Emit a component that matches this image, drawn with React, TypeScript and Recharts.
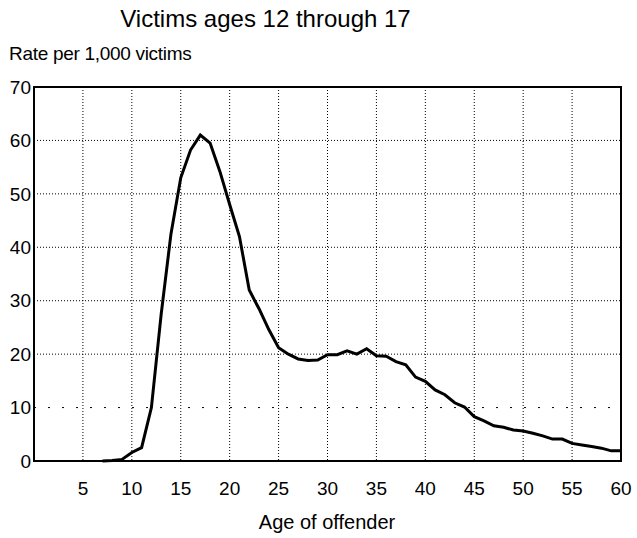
import { LineChart, Line, XAxis, YAxis, CartesianGrid, ReferenceLine, ReferenceArea } from "recharts";

document.body.style.margin = "0";

const ages = [
  7, 8, 9, 10, 11, 12, 13, 14, 15, 16, 17, 18, 19, 20, 21, 22, 23, 24, 25, 26, 27, 28, 29, 30, 31, 32, 33,
  34, 35, 36, 37, 38, 39, 40, 41, 42, 43, 44, 45, 46, 47, 48, 49, 50, 51, 52, 53, 54, 55, 56, 57, 58, 59, 60,
];
const rates = [
  0, 0.1, 0.3, 1.6, 2.5, 10, 27.5, 42.5, 53, 58.2, 61, 59.5, 54.2, 48, 42, 32, 28.5, 24.6, 21.2, 20, 19.1,
  18.8, 18.9, 19.9, 19.9, 20.6, 20.0, 21.0, 19.7, 19.6, 18.6, 18.0, 15.7, 14.9, 13.3, 12.4, 10.9, 10.1, 8.3,
  7.5, 6.6, 6.3, 5.8, 5.6, 5.2, 4.7, 4.1, 4.1, 3.3, 3.0, 2.7, 2.4, 1.9, 1.9,
];
const xTicks = [5, 10, 15, 20, 25, 30, 35, 40, 45, 50, 55, 60];
const yTicks = [0, 10, 20, 30, 40, 50, 60, 70];

const data = ages.map((age, i) => ({ age, rate: rates[i] }));

const font = "'Liberation Sans', Arial, sans-serif";
const tickStyle = { fill: "#000", fontSize: 19, fontFamily: font };

export default function App() {
  return (
    <div style={{ position: "relative", width: 637, height: 538, background: "#fff", fontFamily: font, color: "#000" }}>
      <div style={{ position: "absolute", left: 0, width: 531, top: 5, textAlign: "center", fontSize: 24 }}>
        Victims ages 12 through 17
      </div>
      <div style={{ position: "absolute", left: 9, top: 43, fontSize: 19, letterSpacing: -0.3 }}>
        Rate per 1,000 victims
      </div>
      <div style={{ position: "absolute", left: 0, width: 654, top: 511, textAlign: "center", fontSize: 20 }}>
        Age of offender
      </div>
      <LineChart width={637} height={538} data={data} margin={{ top: 87, right: 16, left: 0, bottom: 0 }}>
        <CartesianGrid
          stroke="#000"
          strokeWidth={1}
          strokeDasharray="1 2"
          horizontalValues={[20, 30, 40, 50, 60]}
          verticalValues={[5, 10, 15, 20, 25, 30, 35, 40, 45, 50, 55]}
        />
        <ReferenceLine y={10} stroke="#000" strokeWidth={1} strokeDasharray="2 12" />
        <XAxis
          dataKey="age"
          type="number"
          domain={[0, 60]}
          ticks={xTicks}
          height={77}
          tickSize={0}
          tickMargin={21}
          axisLine={false}
          tickLine={false}
          tick={tickStyle}
          interval={0}
        />
        <YAxis
          type="number"
          domain={[0, 70]}
          ticks={yTicks}
          width={34}
          tickSize={0}
          tickMargin={3}
          axisLine={false}
          tickLine={false}
          tick={tickStyle}
          interval={0}
        />
        <ReferenceArea x1={0} x2={60} y1={0} y2={70} fill="none" stroke="#000" strokeWidth={2} />
        <Line
          type="linear"
          dataKey="rate"
          stroke="#000"
          strokeWidth={3}
          dot={false}
          isAnimationActive={false}
        />
      </LineChart>
    </div>
  );
}
